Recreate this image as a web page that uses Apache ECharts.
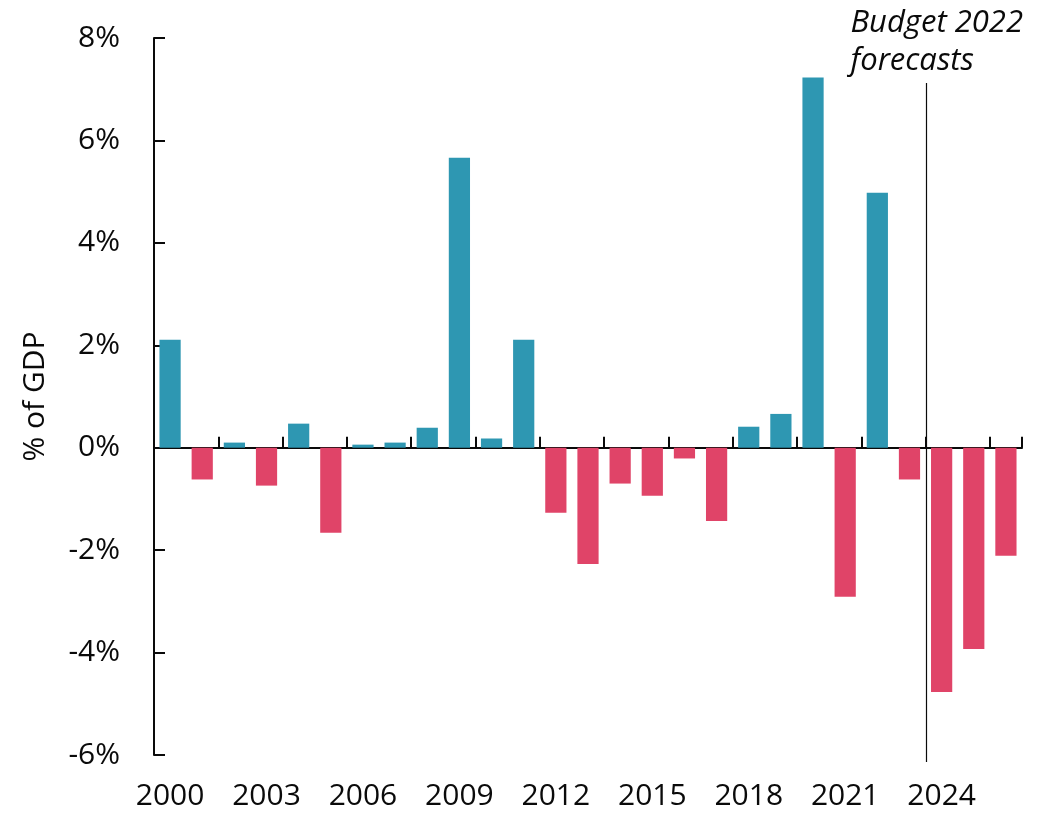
<!DOCTYPE html>
<html>
<head>
<meta charset="utf-8">
<script src="https://cdn.jsdelivr.net/npm/echarts@6/dist/echarts.min.js"></script>
<style>
  html, body { margin: 0; padding: 0; background: #fff; }
  #chart { width: 1048px; height: 820px; }
</style>
</head>
<body>
<div id="chart"></div>
<script>
const years = ['2000', '2001', '2002', '2003', '2004', '2005', '2006', '2007', '2008', '2009',
  '2010', '2011', '2012', '2013', '2014', '2015', '2016', '2017', '2018', '2019',
  '2020', '2021', '2022', '2023', '2024', '2025', '2026'];
const balance = [2.11, -0.62, 0.1, -0.74, 0.47, -1.66, 0.06, 0.1, 0.39, 5.66,
  0.18, 2.11, -1.27, -2.27, -0.7, -0.94, -0.21, -1.43, 0.41, 0.66,
  7.23, -2.91, 4.98, -0.62, -4.77, -3.93, -2.11];
const forecastStart = '2024';
const yTicks = [-6, -4, -2, 0, 2, 4, 6, 8];

const BLUE = '#2e97b2';
const RED = '#e04468';
const INK = '#0a0a0a';
const FONT = '"Open Sans", sans-serif';

const chart = echarts.init(document.getElementById('chart'));

const option = {
  animation: false,
  grid: {left: 154, right: 26, top: 38, bottom: 65, containLabel: false},
  xAxis: [
    {
      type: 'category',
      data: years,
      position: 'bottom',
      axisLine: {show: false, onZero: false},
      axisTick: {show: false},
      axisLabel: {
        interval: 2,
        color: INK,
        fontFamily: FONT,
        fontSize: 30,
        margin: 26
      }
    },
    {
      type: 'category',
      data: years,
      position: 'bottom',
      axisLine: {show: true, onZero: true, lineStyle: {color: INK, width: 2}},
      axisTick: {show: true, inside: true, length: 11, lineStyle: {color: INK, width: 2}},
      axisLabel: {show: false}
    }
  ],
  yAxis: {
    type: 'value',
    min: yTicks[0],
    max: yTicks[yTicks.length - 1],
    interval: 2,
    name: '% of GDP',
    nameLocation: 'middle',
    nameGap: 104,
    nameTextStyle: {color: INK, fontFamily: FONT, fontSize: 30},
    axisLine: {show: true, lineStyle: {color: INK, width: 2}},
    axisTick: {show: true, inside: true, length: 11, lineStyle: {color: INK, width: 2}},
    splitLine: {show: false},
    axisLabel: {
      color: INK,
      fontFamily: FONT,
      fontSize: 30,
      margin: 34,
      formatter: v => v + '%'
    }
  },
  series: [{
    type: 'bar',
    xAxisIndex: 0,
    barCategoryGap: '34%',
    data: balance.map(v => ({
      value: v,
      itemStyle: {color: v >= 0 ? BLUE : RED}
    }))
  }]
};

chart.setOption(option);

// vertical divider between actuals and forecasts, placed from the category scale
const idx = years.indexOf(forecastStart);
const xa = chart.convertToPixel({xAxisIndex: 0}, years[idx - 1]);
const xb = chart.convertToPixel({xAxisIndex: 0}, years[idx]);
const lineX = Math.round((xa + xb) / 2) + 0.5;
const yBottom = chart.convertToPixel({yAxisIndex: 0}, yTicks[0]);

chart.setOption({
  graphic: [
    {
      type: 'line',
      shape: {x1: lineX, y1: 83, x2: lineX, y2: yBottom + 7},
      style: {stroke: INK, lineWidth: 1.2},
      z: 10
    },
    {
      type: 'text',
      x: lineX - 76,
      y: 4,
      style: {
        text: 'Budget 2022\nforecasts',
        fill: INK,
        font: 'italic 31px "Open Sans", sans-serif',
        lineHeight: 38
      },
      z: 10
    }
  ]
});

window.addEventListener('resize', () => {
  chart.resize();
});
</script>
</body>
</html>
